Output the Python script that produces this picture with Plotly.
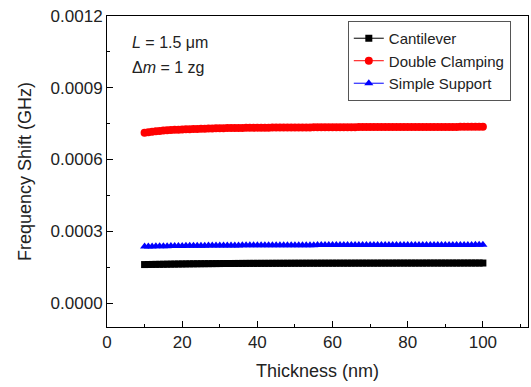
import plotly.graph_objects as go

thickness = list(range(10, 101))

cantilever = [
    0.0001610, 0.0001613, 0.0001615, 0.0001618, 0.0001620, 0.0001623, 0.0001625, 0.0001628, 0.0001630, 0.0001633,
    0.0001635, 0.0001637, 0.0001640, 0.0001642, 0.0001643, 0.0001645, 0.0001646, 0.0001648, 0.0001649, 0.0001651,
    0.0001652, 0.0001653, 0.0001654, 0.0001655, 0.0001656, 0.0001657, 0.0001658, 0.0001659, 0.0001660, 0.0001660,
    0.0001661, 0.0001661, 0.0001662, 0.0001662, 0.0001663, 0.0001663, 0.0001664, 0.0001664, 0.0001665, 0.0001665,
    0.0001666, 0.0001666, 0.0001666, 0.0001667, 0.0001667, 0.0001667, 0.0001667, 0.0001668, 0.0001668, 0.0001668,
    0.0001668, 0.0001668, 0.0001669, 0.0001669, 0.0001669, 0.0001669, 0.0001670, 0.0001670, 0.0001670, 0.0001670,
    0.0001670, 0.0001670, 0.0001670, 0.0001671, 0.0001671, 0.0001671, 0.0001671, 0.0001672, 0.0001672, 0.0001672,
    0.0001672, 0.0001672, 0.0001672, 0.0001672, 0.0001672, 0.0001673, 0.0001673, 0.0001673, 0.0001673, 0.0001673,
    0.0001673, 0.0001673, 0.0001673, 0.0001673, 0.0001673, 0.0001674, 0.0001674, 0.0001674, 0.0001674, 0.0001674,
    0.0001674,
]

double_clamping = [
    0.0007120, 0.0007140, 0.0007160, 0.0007180, 0.0007190, 0.0007210, 0.0007220, 0.0007230, 0.0007240, 0.0007250,
    0.0007260, 0.0007265, 0.0007270, 0.0007275, 0.0007280, 0.0007285, 0.0007290, 0.0007295, 0.0007300, 0.0007305,
    0.0007310, 0.0007310, 0.0007315, 0.0007315, 0.0007320, 0.0007320, 0.0007320, 0.0007325, 0.0007325, 0.0007330,
    0.0007330, 0.0007330, 0.0007330, 0.0007330, 0.0007335, 0.0007335, 0.0007335, 0.0007340, 0.0007340, 0.0007340,
    0.0007340, 0.0007340, 0.0007340, 0.0007340, 0.0007340, 0.0007345, 0.0007345, 0.0007345, 0.0007350, 0.0007350,
    0.0007350, 0.0007350, 0.0007350, 0.0007350, 0.0007350, 0.0007350, 0.0007350, 0.0007355, 0.0007355, 0.0007355,
    0.0007355, 0.0007355, 0.0007355, 0.0007355, 0.0007360, 0.0007360, 0.0007360, 0.0007360, 0.0007360, 0.0007360,
    0.0007360, 0.0007360, 0.0007360, 0.0007360, 0.0007360, 0.0007360, 0.0007360, 0.0007365, 0.0007365, 0.0007365,
    0.0007365, 0.0007365, 0.0007365, 0.0007365, 0.0007370, 0.0007370, 0.0007370, 0.0007370, 0.0007370, 0.0007370,
    0.0007370,
]

simple_support = [
    0.0002360, 0.0002364, 0.0002368, 0.0002371, 0.0002375, 0.0002378, 0.0002380, 0.0002383, 0.0002385, 0.0002388,
    0.0002390, 0.0002392, 0.0002394, 0.0002396, 0.0002398, 0.0002399, 0.0002400, 0.0002402, 0.0002403, 0.0002405,
    0.0002406, 0.0002407, 0.0002408, 0.0002409, 0.0002410, 0.0002411, 0.0002412, 0.0002413, 0.0002414, 0.0002414,
    0.0002415, 0.0002416, 0.0002417, 0.0002417, 0.0002418, 0.0002418, 0.0002419, 0.0002419, 0.0002420, 0.0002420,
    0.0002421, 0.0002421, 0.0002421, 0.0002422, 0.0002422, 0.0002422, 0.0002423, 0.0002423, 0.0002423, 0.0002423,
    0.0002424, 0.0002424, 0.0002424, 0.0002424, 0.0002425, 0.0002425, 0.0002425, 0.0002426, 0.0002426, 0.0002426,
    0.0002426, 0.0002426, 0.0002427, 0.0002427, 0.0002427, 0.0002427, 0.0002428, 0.0002428, 0.0002428, 0.0002428,
    0.0002429, 0.0002429, 0.0002429, 0.0002429, 0.0002429, 0.0002430, 0.0002430, 0.0002430, 0.0002430, 0.0002430,
    0.0002431, 0.0002431, 0.0002431, 0.0002431, 0.0002432, 0.0002432, 0.0002432, 0.0002432, 0.0002433, 0.0002433,
    0.0002433,
]

series = [
    ("Cantilever", cantilever, "black", "square", 7),
    ("Double Clamping", double_clamping, "red", "circle", 8),
    ("Simple Support", simple_support, "blue", "triangle-up", 8),
]

FONT = "Liberation Sans, Arial, sans-serif"

fig = go.Figure()
for name, vals, color, sym, size in series:
    fig.add_trace(go.Scatter(
        x=thickness, y=vals, name=name, mode="lines+markers",
        line=dict(color=color, width=1),
        marker=dict(color=color, symbol=sym, size=size, line=dict(width=0)),
    ))

axis_common = dict(
    showline=True, linecolor="black", linewidth=1, mirror=True,
    ticks="inside", ticklen=6, tickcolor="black", tickwidth=1,
    showgrid=False, zeroline=False,
    tickfont=dict(family=FONT, size=17, color="#222"),
)

fig.update_xaxes(
    range=[0, 112], dtick=20, tick0=0,
    minor=dict(ticks="inside", ticklen=3, dtick=10, tickcolor="black", showgrid=False),
    title=dict(text="Thickness (nm)", font=dict(family=FONT, size=18, color="#222"), standoff=12),
    **axis_common,
)
fig.update_yaxes(
    range=[-0.0001, 0.0012], dtick=0.0003, tick0=0, tickformat=".4f",
    minor=dict(ticks="inside", ticklen=3, dtick=0.00015, tickcolor="black", showgrid=False),
    title=dict(text="Frequency Shift (GHz)", font=dict(family=FONT, size=18, color="#222"), standoff=14),
    **axis_common,
)

fig.add_annotation(x=0.055, y=0.916, xref="paper", yref="paper", xanchor="left", yanchor="middle",
                   text="<i>L</i> = 1.5 μm", showarrow=False,
                   font=dict(family=FONT, size=16, color="#222"))
fig.add_annotation(x=0.055, y=0.836, xref="paper", yref="paper", xanchor="left", yanchor="middle",
                   text="Δ<i>m</i> = 1 zg", showarrow=False,
                   font=dict(family=FONT, size=16, color="#222"))

fig.update_layout(
    width=531, height=387,
    margin=dict(l=107, r=3, t=16, b=60),
    paper_bgcolor="white", plot_bgcolor="white",
    showlegend=True,
    legend=dict(x=0.572, y=0.984, xanchor="left", yanchor="top",
                bordercolor="#555", borderwidth=1, bgcolor="white",
                font=dict(family=FONT, size=15, color="#222"),
                tracegroupgap=0, itemwidth=30),
)

fig.write_html("out.html")
